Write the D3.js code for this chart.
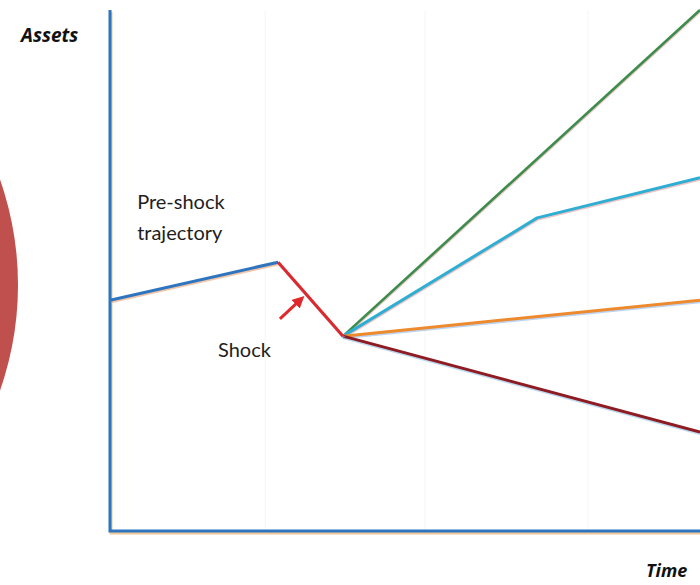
<!DOCTYPE html>
<html><head><meta charset="utf-8">
<script src="https://cdn.jsdelivr.net/npm/d3@7/dist/d3.min.js"></script>
<style>body{margin:0;background:#fff}svg{display:block}</style>
</head><body>
<script>
// Data (abstract units: time 0..100, assets 0..100)
const preShockTime = [0, 28.5];
const preShockAssets = [44.3, 51.6];
const shockTime = [28.5, 39.5];
const shockAssets = [51.6, 37.4];
const greenTime = [39.5, 100];
const greenAssets = [37.4, 100];
const cyanTime = [39.5, 72.4, 100];
const cyanAssets = [37.4, 60.1, 67.8];
const orangeTime = [39.5, 100];
const orangeAssets = [37.4, 44.3];
const darkRedTime = [39.5, 100];
const darkRedAssets = [37.4, 19.0];
const gridTimes = [26.3, 53.4, 81.0];
const arrowTime = [28.8, 32.2];
const arrowAssets = [40.7, 44.3];
const labels = [
  {text: "Pre-shock", t: 4.6, a: 61.9},
  {text: "trajectory", t: 4.6, a: 55.9},
  {text: "Shock", t: 18.3, a: 33.4}
];

const W = 700, H = 585;
const svg = d3.select("body").append("svg").attr("width", W).attr("height", H);
const x = d3.scaleLinear().domain([0, 100]).range([110, 700]);
const y = d3.scaleLinear().domain([0, 100]).range([531, 10]);

// red circle on the left
svg.append("circle").attr("cx", -300).attr("cy", 285).attr("r", 318).attr("fill", "#c0504d");

// faint gridlines
svg.selectAll("line.grid").data(gridTimes).join("line")
  .attr("x1", d => x(d)).attr("x2", d => x(d)).attr("y1", y(100)).attr("y2", y(0))
  .attr("stroke", "#f5f5f5").attr("stroke-width", 1);

const line = d3.line().x(d => x(d[0])).y(d => y(d[1]));
const zip = (a, b) => a.map((v, i) => [v, b[i]]);

function path(ts, as, color, w, dx, dy, shadow) {
  if (shadow) {
    svg.append("path").attr("d", line(zip(ts, as))).attr("fill", "none")
      .attr("stroke", shadow).attr("stroke-width", w).attr("stroke-linejoin", "round")
      .attr("transform", `translate(${dx},${dy})`).attr("opacity", 0.6);
  }
  svg.append("path").attr("d", line(zip(ts, as))).attr("fill", "none")
    .attr("stroke", color).attr("stroke-width", w).attr("stroke-linejoin", "round");
}

// axes
svg.append("path").attr("d", line([[0, 100], [0, 0], [100, 0]])).attr("fill", "none")
  .attr("stroke", "#f0c89a").attr("stroke-width", 3).attr("transform", "translate(1,2)");
svg.append("path").attr("d", line([[0, 100], [0, 0], [100, 0]])).attr("fill", "none")
  .attr("stroke", "#2e75c0").attr("stroke-width", 3).attr("stroke-linejoin", "miter");

path(preShockTime, preShockAssets, "#2e75c0", 3, 1, 1.5, "#e8a070");
path(greenTime, greenAssets, "#3c8c4c", 2.6, 0, 1.5, "#e0a0a0");
path(cyanTime, cyanAssets, "#2eaed2", 3, 0, 1.5, "#e0a0a0");
path(orangeTime, orangeAssets, "#ee8a2e", 3, 0, 1.5, "#90b8e8");
path(darkRedTime, darkRedAssets, "#8e1c22", 3, 0, 1.5, "#90c0e8");
path(shockTime, shockAssets, "#e0282c", 3, 1, 1.5, "#60b0e0");

// arrow
svg.append("defs").append("marker").attr("id", "ah").attr("viewBox", "0 0 10 10")
  .attr("refX", 5).attr("refY", 5).attr("markerWidth", 4).attr("markerHeight", 4)
  .attr("orient", "auto").append("path").attr("d", "M0,0 L10,5 L0,10 z").attr("fill", "#e0282c");
svg.append("line")
  .attr("x1", x(arrowTime[0])).attr("y1", y(arrowAssets[0]))
  .attr("x2", x(arrowTime[1])).attr("y2", y(arrowAssets[1]))
  .attr("stroke", "#e0282c").attr("stroke-width", 3).attr("marker-end", "url(#ah)");

// labels
svg.selectAll("text.lbl").data(labels).join("text")
  .attr("x", d => x(d.t)).attr("y", d => y(d.a))
  .attr("font-family", "Lato, 'Open Sans', sans-serif").attr("font-size", 20)
  .attr("fill", "#1e1e1e").text(d => d.text);

svg.append("text").attr("x", 21).attr("y", 42).text("Assets")
  .attr("font-family", "'Open Sans', Lato, sans-serif").attr("font-size", 19)
  .attr("font-weight", "bold").attr("font-style", "italic").attr("fill", "#111");
svg.append("text").attr("x", 646).attr("y", 577).text("Time")
  .attr("font-family", "'Open Sans', Lato, sans-serif").attr("font-size", 18)
  .attr("font-weight", "bold").attr("font-style", "italic").attr("fill", "#111");
</script>
</body></html>
